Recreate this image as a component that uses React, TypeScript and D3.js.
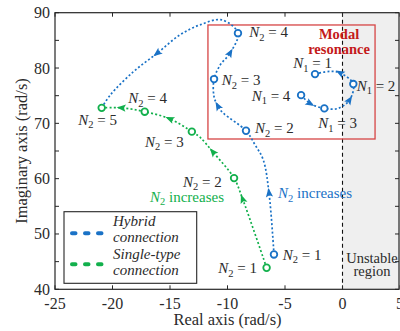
import * as d3 from "d3";

// point kinds: m = marker, a = arrow (forward), r = arrow (reversed), v = via point
type P = [number, number, string];

const hybridN2: P[] = [
  [-5.96, 46.3, "m"],
  [-6.39, 57.4, "a"],
  [-6.89, 63.4, "v"],
  [-7.6, 66.1, "v"],
  [-8.39, 68.66, "m"],
  [-10.4, 71.9, "v"],
  [-10.83, 73.1, "a"],
  [-11.17, 74.8, "v"],
  [-11.17, 78.0, "m"],
  [-10.65, 80.5, "v"],
  [-9.78, 82.7, "a"],
  [-9.09, 86.3, "m"],
  [-10.5, 88.7, "v"],
  [-12.4, 87.8, "v"],
  [-14.13, 86.0, "v"],
  [-16.1, 82.7, "a"],
  [-18.2, 79.3, "v"],
  [-20.2, 75.1, "v"],
  [-20.94, 72.8, "v"],
];

const hybridN1: P[] = [
  [-2.39, 78.9, "m"],
  [-1.09, 79.4, "v"],
  [-0.2, 79.1, "r"],
  [0.94, 77.1, "m"],
  [0.6, 74.2, "r"],
  [-0.4, 72.7, "v"],
  [-1.58, 72.7, "m"],
  [-2.83, 73.6, "r"],
  [-3.6, 75.1, "m"],
];

const singleN2: P[] = [
  [-6.6, 43.9, "m"],
  [-8.68, 56.3, "a"],
  [-9.43, 60.1, "m"],
  [-11.26, 64.8, "a"],
  [-12.4, 67.5, "v"],
  [-13.1, 68.5, "m"],
  [-15.0, 70.8, "a"],
  [-17.2, 72.1, "m"],
  [-19.2, 72.8, "a"],
  [-20.94, 72.8, "m"],
];

// [variable, subscript, value, x, y]
const pointLabels: [string, string, string, number, number][] = [
  ["N", "2", "4", -8.1, 85.55],
  ["N", "2", "3", -10.5, 76.9],
  ["N", "2", "2", -7.6, 68.2],
  ["N", "2", "1", -5.2, 45.3],
  ["N", "1", "1", -4.28, 79.95],
  ["N", "1", "2", 1.23, 75.9],
  ["N", "1", "4", -7.9, 74.1],
  ["N", "1", "3", -2.1, 69.1],
  ["N", "2", "1", -10.8, 42.9],
  ["N", "2", "2", -13.87, 58.55],
  ["N", "2", "3", -17.17, 65.8],
  ["N", "2", "4", -18.63, 73.6],
  ["N", "2", "5", -22.97, 69.7],
];

const xTicks = [-25, -20, -15, -10, -5, 0, 5];
const yTicks = [40, 45, 50, 55, 60, 65, 70, 75, 80, 85, 90];
const yLabels = [40, 50, 60, 70, 80, 90];

const BLUE = "#1a72c6";
const GREEN = "#12b04c";
const TXT = "#2b2b2b";
const FONT = "Liberation Serif, Tinos, DejaVu Serif, serif";

const x = d3.scaleLinear().domain([-25, 5]).range([55, 400]);
const y = d3.scaleLinear().domain([40, 90]).range([289.3, 12.7]);

const line = d3
  .line<P>()
  .x((d) => x(d[0]))
  .y((d) => y(d[1]))
  .curve(d3.curveCatmullRom.alpha(0.5));

const Arrows = ({ pts, color }: { pts: P[]; color: string }) => (
  <g fill={color}>
    {pts.map((p, i) => {
      if (p[2] !== "a" && p[2] !== "r") return null;
      const a = pts[i - 1];
      const b = pts[i + 1];
      let ang = Math.atan2(y(b[1]) - y(a[1]), x(b[0]) - x(a[0]));
      if (p[2] === "r") ang += Math.PI;
      const deg = (ang * 180) / Math.PI;
      return (
        <path
          key={i}
          d="M5,0 L-4,-3.6 L-2.2,0 L-4,3.6 Z"
          transform={`translate(${x(p[0])},${y(p[1])}) rotate(${deg})`}
        />
      );
    })}
  </g>
);

const Markers = ({ pts, color }: { pts: P[]; color: string }) => (
  <g fill="white" stroke={color} strokeWidth={1.8}>
    {pts
      .filter((p) => p[2] === "m")
      .map((p, i) => (
        <circle key={i} cx={x(p[0])} cy={y(p[1])} r={3.3} />
      ))}
  </g>
);

const Sub = ({ v, s, val }: { v: string; s: string; val: string }) => (
  <>
    <tspan fontStyle="italic">{v}</tspan>
    <tspan fontSize={10.5} dy={3.5}>
      {s}
    </tspan>
    <tspan dy={-3.5}>{val}</tspan>
  </>
);

export default function App() {
  const [x0, x1] = x.range();
  const [yb, yt] = y.range();
  return (
    <svg
      width={400}
      height={331}
      style={{ position: "absolute", left: 0, top: 0, background: "white", fontFamily: FONT }}
    >
      {/* unstable region */}
      <rect x={x(0)} y={yt} width={x1 - x(0)} height={yb - yt} fill="#efefef" />
      <line x1={x(0)} x2={x(0)} y1={yt} y2={yb} stroke="#111" strokeWidth={1.1} strokeDasharray="4,3" />

      {/* modal resonance box */}
      <rect
        x={x(-11.7)}
        y={y(87.78)}
        width={x(2.83) - x(-11.7)}
        height={y(67.17) - y(87.78)}
        fill="none"
        stroke="#d64545"
        strokeWidth={1.3}
      />
      <text x={x(-0.3)} y={y(85.2)} textAnchor="middle" fill="#c41a1a" fontWeight="bold" fontSize={14.5}>
        Modal
      </text>
      <text x={x(-0.3)} y={y(82.5)} textAnchor="middle" fill="#c41a1a" fontWeight="bold" fontSize={14.5}>
        resonance
      </text>

      {/* curves */}
      <g fill="none" strokeWidth={1.7} strokeDasharray="2,2.2">
        <path d={line(hybridN2) ?? ""} stroke={BLUE} />
        <path d={line(hybridN1) ?? ""} stroke={BLUE} />
        <path d={line(singleN2) ?? ""} stroke={GREEN} />
      </g>
      <Arrows pts={hybridN2} color={BLUE} />
      <Arrows pts={hybridN1} color={BLUE} />
      <Arrows pts={singleN2} color={GREEN} />
      <Markers pts={hybridN2} color={BLUE} />
      <Markers pts={hybridN1} color={BLUE} />
      <Markers pts={singleN2} color={GREEN} />

      {/* point labels */}
      <g fontSize={15} fill={TXT}>
        {pointLabels.map((l, i) => (
          <text key={i} x={x(l[3])} y={y(l[4])}>
            <Sub v={l[0]} s={l[1]} val={` = ${l[2]}`} />
          </text>
        ))}
      </g>
      <text x={x(-16.74)} y={y(55.83)} fontSize={15} fill={GREEN}>
        <Sub v="N" s="2" val=" increases" />
      </text>
      <text x={x(-5.6)} y={y(56.5)} fontSize={15} fill={BLUE}>
        <Sub v="N" s="2" val=" increases" />
      </text>
      <text x={372} y={262.5} textAnchor="middle" fontSize={14.5} fill={TXT}>
        Unstable
      </text>
      <text x={372} y={276} textAnchor="middle" fontSize={14.5} fill={TXT}>
        region
      </text>

      {/* frame and ticks */}
      <rect x={x0} y={yt} width={x1 - x0 - 1} height={yb - yt} fill="none" stroke="#262626" strokeWidth={1.2} />
      <g stroke="#262626" strokeWidth={1}>
        {xTicks.map((t) => (
          <g key={t}>
            <line x1={x(t)} x2={x(t)} y1={yb} y2={yb - 4} />
            <line x1={x(t)} x2={x(t)} y1={yt} y2={yt + 4} />
          </g>
        ))}
        {yTicks.map((t) => (
          <g key={t}>
            <line x1={x0} x2={x0 + 4} y1={y(t)} y2={y(t)} />
            <line x1={x1 - 1} x2={x1 - 5} y1={y(t)} y2={y(t)} />
          </g>
        ))}
      </g>
      <g fontSize={16} fill={TXT}>
        {xTicks.map((t) => (
          <text key={t} x={x(t)} y={309} textAnchor="middle">
            {t}
          </text>
        ))}
        {yLabels.map((t) => (
          <text key={t} x={50} y={y(t) + 5.5} textAnchor="end">
            {t}
          </text>
        ))}
      </g>
      <text x={(x0 + x1) / 2} y={325} textAnchor="middle" fontSize={16.5} fill={TXT}>
        Real axis (rad/s)
      </text>
      <text
        transform={`translate(27,${(yt + yb) / 2}) rotate(-90)`}
        textAnchor="middle"
        fontSize={16.5}
        fill={TXT}
      >
        Imaginary axis (rad/s)
      </text>

      {/* legend */}
      <rect x={64} y={211.7} width={132.7} height={71.6} fill="white" stroke="#262626" strokeWidth={1.1} />
      <g strokeWidth={4} strokeLinecap="round" strokeDasharray="3.5,9.5">
        <line x1={72} x2={102} y1={233.3} y2={233.3} stroke={BLUE} />
        <line x1={72} x2={102} y1={264.3} y2={264.3} stroke={GREEN} />
      </g>
      <g fontSize={15} fontStyle="italic" fill={TXT}>
        <text x={113} y={226}>Hybrid</text>
        <text x={113} y={242.3}>connection</text>
        <text x={113} y={259.3}>Single-type</text>
        <text x={113} y={275}>connection</text>
      </g>
    </svg>
  );
}
